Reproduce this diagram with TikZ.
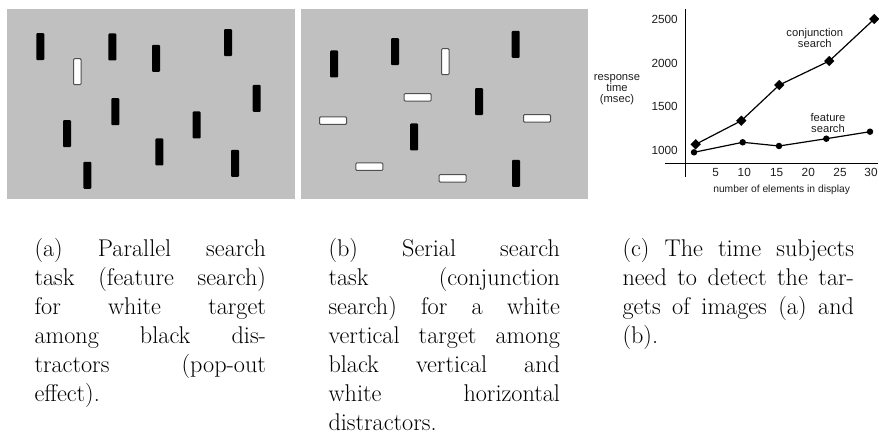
\documentclass[tikz,border=0pt]{standalone}
\usepackage{fontspec}
\newfontfamily\plotfont{Liberation Sans}
\usetikzlibrary{shapes.geometric}
\definecolor{panelgray}{RGB}{192,192,192}
\definecolor{edgegray}{RGB}{80,80,80}
\definecolor{plotink}{RGB}{30,30,30}
\newlength{\capw}
\setlength{\capw}{231.5pt}
\newcommand{\cl}[1]{\makebox[\capw][s]{#1}}
\newcommand{\cn}[1]{\makebox[\capw][l]{#1}}
\begin{document}
\begin{tikzpicture}[x=1pt,y=-1pt,
  vbar/.style={fill=black,rounded corners=1pt,minimum width=8pt,minimum height=27pt,inner sep=0pt,draw=none},
  wvbar/.style={fill=white,draw=edgegray,line width=1pt,rounded corners=1pt,minimum width=7.5pt,minimum height=26pt,inner sep=0pt},
  whbar/.style={fill=white,draw=edgegray,line width=1pt,rounded corners=1pt,minimum width=27pt,minimum height=7.5pt,inner sep=0pt},
  caption/.style={anchor=base west,inner sep=0pt,font=\fontsize{24.2}{29}\selectfont},
  axisline/.style={draw=black,line width=1.1pt},
  tick/.style={inner sep=0pt,text=plotink,font=\plotfont\fontsize{11.8}{11.8}\selectfont},
  plotlabel/.style={inner sep=0pt,text=plotink,align=center,font=\plotfont\fontsize{11.2}{10.8}\selectfont},
  xlabel/.style={inner sep=0pt,text=plotink,font=\plotfont\fontsize{10.3}{10.3}\selectfont},
  curve/.style={draw=black,line width=1.2pt},
  dmark/.style={diamond,fill=black,inner sep=0pt,minimum size=10.5pt},
  cmark/.style={circle,fill=black,inner sep=0pt,minimum size=6.5pt}]
\useasboundingbox (0,0) rectangle (879,433);

% panel (a)
\fill[panelgray] (7,9) rectangle (295,199.3);
\node[vbar] (a1) at (40.3,46.7) {};
\node[wvbar] (at) at (77.3,71.7) {};
\node[vbar] (a3) at (112.3,47) {};
\node[vbar] (a4) at (156,58.3) {};
\node[vbar] (a5) at (228,42.7) {};
\node[vbar] (a6) at (256.7,98.3) {};
\node[vbar] (a7) at (115.3,111.7) {};
\node[vbar] (a8) at (196.7,125) {};
\node[vbar] (a9) at (67,133.7) {};
\node[vbar] (a10) at (159.3,152) {};
\node[vbar] (a11) at (235,163.3) {};
\node[vbar] (a12) at (87.3,175.3) {};

% panel (b)
\fill[panelgray] (301.3,9) rectangle (587.7,199.3);
\node[vbar] (b1) at (334,64) {};
\node[vbar] (b2) at (395,51.7) {};
\node[vbar] (b3) at (515.7,44.3) {};
\node[vbar] (b4) at (479,101.7) {};
\node[vbar] (b5) at (414,137) {};
\node[vbar] (b6) at (516,173.3) {};
\node[wvbar] (bt) at (445.3,61.7) {};
\node[whbar] (h1) at (417.7,97.3) {};
\node[whbar] (h2) at (333,120.7) {};
\node[whbar] (h3) at (537,118.3) {};
\node[whbar] (h4) at (369.3,166.7) {};
\node[whbar] (h5) at (452.7,178.3) {};

% panel (c): plot
\draw[axisline] (665,163.3) -- (878,163.3);
\draw[axisline] (685.7,9) -- (685.7,176.7);
\node[tick,anchor=east] (y2500) at (678,19) {2500};
\node[tick,anchor=east] (y2000) at (678,63.3) {2000};
\node[tick,anchor=east] (y1500) at (678,106.7) {1500};
\node[tick,anchor=east] (y1000) at (678,150) {1000};
\node[tick] (x5) at (715.7,172) {5};
\node[tick] (x10) at (744.3,172) {10};
\node[tick] (x15) at (776.7,172) {15};
\node[tick] (x20) at (808.3,172) {20};
\node[tick] (x25) at (840,172) {25};
\node[tick] (x30) at (871,172) {30};
\node[plotlabel] (ylab) at (617,89.8) {response\\time\\(msec)};
\node[xlabel] (xlab) at (781.7,190) {number of elements in display};
\node[plotlabel] (clab) at (814.8,37.8) {conjunction\\search};
\node[plotlabel] (flab) at (828,122.8) {feature\\search};

\node[dmark] (c1) at (695.7,144.3) {};
\node[dmark] (c2) at (741.3,120.7) {};
\node[dmark] (c3) at (779.3,85) {};
\node[dmark] (c4) at (829.3,61) {};
\node[dmark] (c5) at (874.3,19) {};
\draw[curve] (c1.center) -- (c2.center) -- (c3.center) -- (c4.center) -- (c5.center);

\node[cmark] (f1) at (694,152.3) {};
\node[cmark] (f2) at (742.7,142.3) {};
\node[cmark] (f3) at (779,146) {};
\node[cmark] (f4) at (826.3,138.7) {};
\node[cmark] (f5) at (870,131.7) {};
\draw[curve] (f1.center) -- (f2.center) -- (f3.center) -- (f4.center) -- (f5.center);

% captions
\node[caption] (capa) at (34.3,256.7) {\parbox[t]{\capw}{%
\cl{(a) Parallel search}\\
\cl{task (feature search)}\\
\cl{for white target}\\
\cl{among black dis-}\\
\cl{tractors (pop-out}\\
\cn{effect).}}};
\node[caption] (capb) at (328.3,256.7) {\parbox[t]{\capw}{%
\cl{(b) Serial search}\\
\cl{task (conjunction}\\
\cl{search) for a white}\\
\cl{vertical target among}\\
\cl{black vertical and}\\
\cl{white horizontal}\\
\cn{distractors.}}};
\node[caption] (capc) at (622.3,256.7) {\parbox[t]{\capw}{%
\cl{(c) The time subjects}\\
\cl{need to detect the tar-}\\
\cl{gets of images (a) and}\\
\cn{(b).}}};
\end{tikzpicture}
\end{document}
